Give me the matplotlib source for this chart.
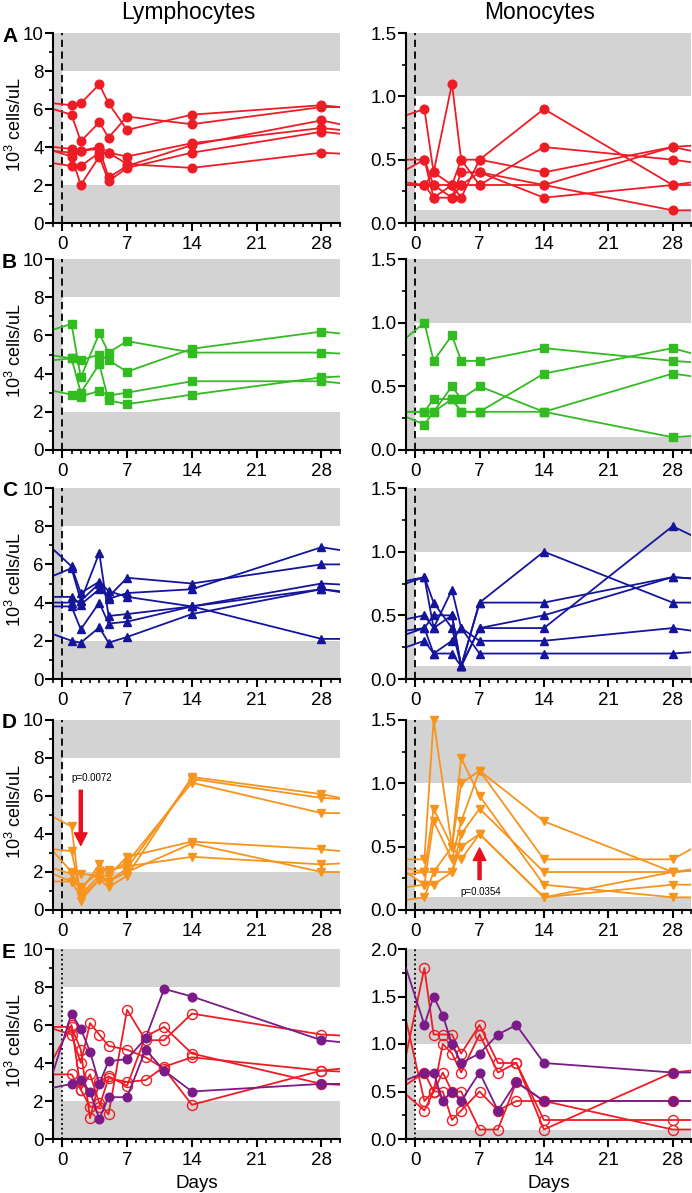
import matplotlib.pyplot as plt
import numpy as np
from matplotlib.ticker import MultipleLocator, FormatStrFormatter

plt.rcParams['font.family'] = ['Liberation Sans', 'DejaVu Sans']
plt.rcParams['mathtext.fontset'] = 'custom'
plt.rcParams['mathtext.rm'] = 'Liberation Sans'

# sampling days; first/last entries are where the lines cross the axes edges
days = [-1, 1, 2, 4, 5, 7, 14, 28, 30]
days_e = [-1, 1, 2, 3, 4, 5, 7, 9, 11, 14, 28, 30]

# panel A (red circles)
lym_a = [
    [6.3, 6.2, 6.3, 7.3, 6.3, 4.9, 5.7, 6.2, 6.1],
    [6.0, 5.7, 4.3, 5.3, 4.5, 5.6, 5.2, 6.1, 6.1],
    [4.0, 3.9, 3.8, 4.0, 3.7, 3.5, 4.2, 5.0, 4.9],
    [3.8, 3.7, 3.8, 3.9, 2.4, 3.0, 4.1, 5.4, 5.2],
    [3.8, 3.5, 2.0, 3.5, 2.2, 2.9, 3.7, 4.8, 4.7],
    [3.15, 3.0, 3.0, 3.7, 3.7, 3.1, 2.9, 3.7, 3.65],
]
mono_a = [
    [0.85, 0.9, 0.4, 1.1, 0.5, 0.5, 0.4, 0.6, 0.61],
    [0.5, 0.5, 0.2, 0.3, 0.2, 0.5, 0.9, 0.3, 0.32],
    [0.42, 0.5, 0.3, 0.2, 0.4, 0.4, 0.2, 0.3, 0.3],
    [0.32, 0.3, 0.4, 0.3, 0.5, 0.3, 0.6, 0.5, 0.48],
    [0.30, 0.3, 0.2, 0.2, 0.3, 0.3, 0.3, 0.6, 0.57],
    [0.30, 0.3, 0.3, 0.3, 0.3, 0.4, 0.3, 0.1, 0.1],
]

# panel B (green squares)
lym_b = [
    [6.3, 6.6, 3.8, 6.1, 5.1, 5.7, 5.1, 5.1, 5.05],
    [4.95, 4.8, 4.7, 5.0, 4.7, 4.1, 5.3, 6.2, 6.1],
    [4.7, 4.8, 3.0, 4.5, 2.6, 2.4, 2.9, 3.8, 3.85],
    [3.1, 2.9, 2.8, 3.1, 2.85, 3.0, 3.6, 3.6, 3.5],
]
mono_b = [
    [0.88, 1.0, 0.7, 0.9, 0.7, 0.7, 0.8, 0.7, 0.69],
    [0.3, 0.3, 0.3, 0.5, 0.4, 0.5, 0.3, 0.1, 0.11],
    [0.3, 0.3, 0.4, 0.4, 0.3, 0.3, 0.6, 0.8, 0.76],
    [0.26, 0.2, 0.3, 0.4, 0.3, 0.3, 0.3, 0.6, 0.58],
]

# panel C (blue triangles)
lym_c = [
    [6.8, 5.9, 4.5, 5.1, 4.6, 4.3, 3.8, 2.1, 2.1],
    [5.4, 5.8, 4.1, 6.6, 3.3, 3.4, 3.8, 5.0, 4.95],
    [4.3, 4.3, 3.9, 4.7, 4.3, 5.3, 5.0, 6.0, 6.0],
    [4.0, 4.0, 4.1, 5.0, 4.2, 4.5, 4.7, 6.9, 6.75],
    [3.8, 3.8, 2.6, 4.0, 2.9, 3.0, 3.8, 4.7, 4.55],
    [2.35, 2.0, 1.9, 2.7, 1.9, 2.2, 3.4, 4.7, 4.6],
]
mono_c = [
    [0.77, 0.8, 0.6, 0.4, 0.1, 0.6, 1.0, 0.6, 0.6],
    [0.75, 0.8, 0.4, 0.7, 0.4, 0.3, 0.3, 0.4, 0.38],
    [0.47, 0.5, 0.4, 0.5, 0.1, 0.4, 0.4, 1.2, 1.13],
    [0.38, 0.4, 0.2, 0.3, 0.4, 0.2, 0.2, 0.2, 0.21],
    [0.35, 0.4, 0.5, 0.5, 0.1, 0.4, 0.5, 0.8, 0.79],
    [0.25, 0.3, 0.2, 0.2, 0.1, 0.6, 0.6, 0.8, 0.79],
]

# panel D (orange down-triangles)
lym_d = [
    [4.9, 4.4, 0.5, 1.6, 1.2, 1.8, 7.0, 6.1, 5.9],
    [3.2, 3.1, 0.8, 1.8, 1.5, 2.2, 6.9, 5.9, 5.85],
    [3.1, 2.0, 1.0, 2.4, 2.0, 2.5, 6.7, 5.1, 5.1],
    [2.2, 1.9, 1.9, 1.8, 1.8, 2.8, 3.6, 3.2, 3.1],
    [1.9, 1.5, 0.7, 1.6, 1.5, 2.0, 3.5, 2.0, 2.0],
    [1.5, 1.5, 1.2, 2.0, 2.1, 2.3, 2.8, 2.4, 2.45],
]
mono_d = [
    [0.4, 0.4, 1.5, 0.5, 1.2, 0.9, 0.2, 0.1, 0.1],
    [0.33, 0.3, 0.8, 0.5, 1.0, 1.1, 0.7, 0.3, 0.31],
    [0.3, 0.2, 0.7, 0.4, 0.7, 1.1, 0.4, 0.4, 0.48],
    [0.28, 0.3, 0.3, 0.3, 0.6, 0.8, 0.3, 0.3, 0.32],
    [0.18, 0.2, 0.2, 0.3, 0.5, 0.6, 0.1, 0.2, 0.2],
    [0.08, 0.1, 0.3, 0.5, 0.4, 0.6, 0.1, 0.3, 0.31],
]

# panel E: purple filled circles and red open circles
lym_e_purple = [
    [3.5, 6.6, 5.8, 4.6, 2.9, 4.1, 4.2, 5.3, 7.9, 7.5, 5.2, 5.1],
    [2.7, 2.9, 3.1, 2.5, 1.05, 2.2, 2.2, 4.7, 3.6, 2.5, 2.9, 2.9],
]
lym_e_red = [
    [5.9, 5.9, 4.7, 1.1, 3.0, 3.3, 2.8, 5.4, 5.9, 4.5, 2.9, 2.85],
    [5.8, 5.5, 4.0, 6.1, 5.5, 4.9, 4.7, 4.3, 3.7, 1.8, 3.6, 3.7],
    [4.2, 6.0, 2.6, 3.4, 1.9, 1.3, 6.8, 5.2, 5.2, 6.6, 5.5, 5.45],
    [3.4, 3.4, 2.6, 1.7, 1.7, 3.2, 3.0, 3.1, 3.8, 4.3, 3.6, 3.55],
]
mono_e_purple = [
    [1.8, 1.2, 1.5, 1.3, 1.0, 0.8, 0.9, 1.1, 1.2, 0.8, 0.7, 0.7],
    [0.62, 0.7, 0.7, 0.4, 0.5, 0.4, 0.7, 0.3, 0.6, 0.4, 0.4, 0.4],
]
mono_e_red = [
    [0.88, 1.8, 1.1, 1.1, 1.1, 0.9, 1.2, 0.8, 0.8, 0.1, 0.7, 0.72],
    [1.25, 0.4, 0.5, 1.0, 0.9, 0.7, 1.1, 0.7, 0.8, 0.2, 0.2, 0.2],
    [0.57, 0.7, 0.5, 0.7, 0.5, 0.5, 0.1, 0.1, 0.6, 0.4, 0.1, 0.1],
    [0.47, 0.3, 0.5, 0.5, 0.2, 0.3, 0.5, 0.3, 0.4, 0.4, 0.4, 0.4],
]

RED = '#ee1c25'
GREEN = '#33bb22'
BLUE = '#15159c'
ORANGE = '#f7941d'
PURPLE = '#7b1b88'
BAND = '#d3d3d3'

W, H = 692, 1193
fig = plt.figure(figsize=(W / 100, H / 100), dpi=100)

rows_px = [(33, 223), (259, 450), (488, 679), (720, 910), (949, 1139)]
cols_px = [(53, 340), (406, 691)]


def make_ax(row, col):
    t, b = rows_px[row]
    l, r = cols_px[col]
    return fig.add_axes([l / W, 1 - b / H, (r - l) / W, (b - t) / H])


def style(ax, mono, ytop=1.5, dotted=False):
    ax.set_xlim(-1, 30)
    ax.set_xticks([0, 7, 14, 21, 28])
    ax.xaxis.set_minor_locator(MultipleLocator(1))
    if mono:
        ax.set_ylim(0, ytop)
        ax.yaxis.set_major_locator(MultipleLocator(0.5))
        ax.yaxis.set_minor_locator(MultipleLocator(0.25))
        ax.yaxis.set_major_formatter(FormatStrFormatter('%.1f'))
        ax.axhspan(0, 0.1, color=BAND, lw=0, zorder=0)
        ax.axhspan(1.0, ytop, color=BAND, lw=0, zorder=0)
    else:
        ax.set_ylim(0, 10)
        ax.yaxis.set_major_locator(MultipleLocator(2))
        ax.yaxis.set_minor_locator(MultipleLocator(1))
        ax.axhspan(0, 2, color=BAND, lw=0, zorder=0)
        ax.axhspan(8, 10, color=BAND, lw=0, zorder=0)
    ax.axvspan(-1, 0, color=BAND, lw=0, zorder=0)
    if dotted:
        ax.axvline(0, color='k', lw=1.3, ls=(0, (1, 1.6)), zorder=1)
    else:
        ax.axvline(0, color='k', lw=1.3, ls=(0, (4, 2.5)), zorder=1)
    for s in ['top', 'right']:
        ax.spines[s].set_visible(False)
    for s in ['left', 'bottom']:
        ax.spines[s].set_linewidth(1.5)
    ax.tick_params(which='major', length=5.5, width=1.5, labelsize=13.5, direction='out')
    ax.tick_params(which='minor', length=3, width=1.2, direction='out')
    ax.tick_params(axis='y', pad=1)
    ax.tick_params(axis='x', pad=4)


def draw(ax, x, rows, color, marker, ms, open_marker=False, z=2):
    x = np.array(x)
    for r in rows:
        r = np.array(r)
        ax.plot(x, r, color=color, lw=1.3, zorder=z)
        ax.plot(x[1:-1], r[1:-1], ls='none', marker=marker, ms=ms, color=color,
                mfc='none' if open_marker else color, mec=color,
                mew=1.0, zorder=z + 0.5, clip_on=False)


panels = [
    (lym_a, mono_a, RED, 'o', 6.2),
    (lym_b, mono_b, GREEN, 's', 5.6),
    (lym_c, mono_c, BLUE, '^', 5.6),
    (lym_d, mono_d, ORANGE, 'v', 6.2),
]
letters = ['A', 'B', 'C', 'D', 'E']

axes = []
for i, (lym, mono, col, mk, ms) in enumerate(panels):
    axl = make_ax(i, 0)
    style(axl, False)
    draw(axl, days, lym, col, mk, ms)
    axr = make_ax(i, 1)
    style(axr, True)
    draw(axr, days, mono, col, mk, ms)
    axes.append((axl, axr))

axl = make_ax(4, 0)
style(axl, False, dotted=True)
draw(axl, days_e, lym_e_red, RED, 'o', 7.2, open_marker=True, z=2)
draw(axl, days_e, lym_e_purple, PURPLE, 'o', 6.2, z=3)
axr = make_ax(4, 1)
style(axr, True, ytop=2.0, dotted=True)
draw(axr, days_e, mono_e_red, RED, 'o', 7.2, open_marker=True, z=2)
draw(axr, days_e, mono_e_purple, PURPLE, 'o', 6.2, z=3)
axl.set_xlabel('Days', fontsize=13.5, labelpad=4)
axr.set_xlabel('Days', fontsize=13.5, labelpad=4)

# p-value annotations in panel D
axd_l, axd_r = axes[3]
axd_l.annotate('', xy=(2, 3.4), xytext=(2, 6.3),
               arrowprops=dict(facecolor='#e8101e', edgecolor='#e8101e',
                               width=2.2, headwidth=9, headlength=9, shrink=0))
axd_l.text(3.2, 6.95, 'p=0.0072', fontsize=7, ha='center', va='center')
axd_r.annotate('', xy=(7, 0.49), xytext=(7, 0.24),
               arrowprops=dict(facecolor='#e8101e', edgecolor='#e8101e',
                               width=2.2, headwidth=9, headlength=9, shrink=0))
axd_r.text(7.1, 0.14, 'p=0.0354', fontsize=7, ha='center', va='center')

# titles, row letters and y labels
fig.text(188 / W, 1 - 13 / H, 'Lymphocytes', fontsize=16.5, ha='center', va='center')
fig.text(540 / W, 1 - 13 / H, 'Monocytes', fontsize=16.5, ha='center', va='center')
for i, (t, b) in enumerate(rows_px):
    fig.text(2 / W, 1 - (t + 3) / H, letters[i], fontsize=15, fontweight='bold',
             ha='left', va='center')
    fig.text(15 / W, 1 - ((t + b) / 2 - 4) / H, '10$^3$ cells/uL', fontsize=13,
             rotation=90, ha='center', va='center')

fig.savefig('out.png', dpi=100)
